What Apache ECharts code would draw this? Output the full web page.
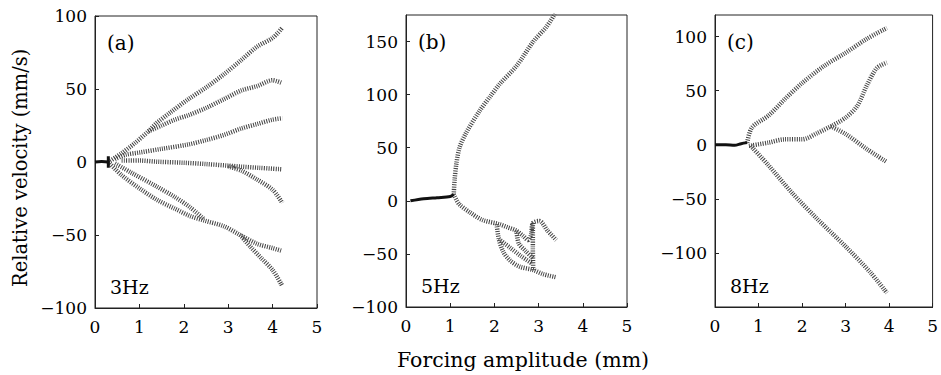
<!DOCTYPE html>
<html><head><meta charset="utf-8">
<script src="https://cdn.jsdelivr.net/npm/echarts@6/dist/echarts.min.js"></script>
<style>html,body{margin:0;padding:0;background:#fff}#c{width:941px;height:375px}</style>
</head><body><div id="c"></div>
<script>
// ---- text / axes ----
const panelLabels = ['(a)', '(b)', '(c)'];
const freqLabels = ['3Hz', '5Hz', '8Hz'];
const xTitle = 'Forcing amplitude (mm)';
const yTitle = 'Relative velocity (mm/s)';
const xMin = 0, xMax = 5, xStep = 1;
const yRanges = [[-100, 100], [-100, 175], [-150, 120]];
const yStep = 50;

// ---- panel (a) 3Hz branches [forcing, velocity] ----
const a_stub  = [[0, 0], [0.15, 0.3], [0.3, 0]];
const a_spike = [[0.3, -4], [0.3, 4]];
const a_top   = [[0.3, 0], [0.6, 6], [0.9, 13], [1.2, 21], [1.4, 27], [1.7, 34], [2.1, 43], [2.5, 51], [2.9, 60], [3.3, 70], [3.65, 79], [4.0, 85], [4.22, 92]];
const a_2nd   = [[1.2, 21], [1.5, 25], [1.8, 29], [2.1, 32], [2.5, 37], [2.9, 43], [3.3, 49], [3.65, 52], [4.0, 56], [4.22, 54]];
const a_3rd   = [[0.45, 2], [0.7, 5], [1.0, 6.5], [1.5, 9], [2.1, 12], [2.5, 15], [2.9, 18.5], [3.3, 23], [3.65, 26], [4.0, 29], [4.22, 30]];
const a_4th   = [[0.6, 1], [1.0, 1], [1.4, 0.2], [2.0, -0.5], [2.5, -1.4], [3.0, -2.5], [3.3, -3.2], [3.7, -4], [4.22, -5]];
const a_5th   = [[3.0, -3], [3.3, -6], [3.65, -12], [4.0, -19], [4.22, -28]];
const a_6th   = [[0.45, -1], [0.8, -7], [1.4, -17], [1.8, -24], [2.14, -31], [2.45, -39]];
const a_7th   = [[0.3, 0], [0.6, -9], [1.0, -18], [1.4, -26], [1.8, -32], [2.14, -37], [2.45, -40], [2.9, -44], [3.27, -50], [3.65, -56], [4.0, -59], [4.22, -61]];
const a_8th   = [[3.27, -50], [3.5, -58], [3.75, -66], [4.0, -74], [4.22, -85]];

// ---- panel (b) 5Hz ----
const b_flat  = [[0.1, 0], [0.4, 2], [0.7, 3], [1.0, 4], [1.08, 6]];
const b_up    = [[1.08, 6], [1.1, 20], [1.14, 35], [1.21, 50], [1.36, 64], [1.67, 85], [1.9, 98], [2.12, 110], [2.5, 127], [2.88, 150], [3.18, 164], [3.37, 176]];
const b_low   = [[1.08, 6], [1.2, -3], [1.45, -11], [1.73, -18], [2.11, -22], [2.3, -25], [2.49, -28], [2.65, -33], [2.76, -37], [2.83, -32], [2.87, -21], [3.02, -19], [3.2, -28], [3.4, -37]];
const b_loop  = [[2.05, -22], [2.1, -36], [2.2, -48], [2.35, -56], [2.57, -62], [2.87, -65], [3.1, -69], [3.4, -72]];
const b_mid1  = [[2.5, -28], [2.55, -40], [2.7, -47], [2.87, -54]];
const b_mid2  = [[2.1, -36], [2.35, -44], [2.6, -52], [2.85, -59]];
const b_vert  = [[2.87, -21], [2.87, -45], [2.88, -66]];

// ---- panel (c) 8Hz ----
const c_flat  = [[0, 0], [0.25, 0], [0.45, -0.5], [0.6, 1], [0.74, 2]];
const c_up    = [[0.74, 2], [0.85, 16], [1.23, 27], [1.6, 42], [2.0, 57], [2.51, 73], [3.0, 85], [3.49, 98], [3.95, 108]];
const c_mid   = [[0.78, -1], [1.23, 2], [1.6, 5], [2.0, 5], [2.36, 11], [2.66, 17]];
const c_midUp = [[2.66, 17], [3.0, 25], [3.27, 36], [3.49, 55], [3.72, 71], [3.95, 76]];
const c_midDn = [[2.66, 17], [3.0, 10], [3.49, -4], [3.95, -16]];
const c_low   = [[0.82, -1], [1.23, -19], [1.76, -44], [2.36, -69], [3.0, -94], [3.57, -118], [3.95, -137]];

const panelData = [
  [a_top, a_2nd, a_3rd, a_4th, a_5th, a_6th, a_7th, a_8th],
  [b_up, b_low, b_loop, b_mid1, b_mid2, b_vert],
  [c_up, c_mid, c_midUp, c_midDn, c_low]
];
const solidData = [[a_stub, a_spike], [b_flat], [c_flat]];

// ---- layout ----
const grids = [
  {left: 95, top: 16, width: 222, height: 292},
  {left: 406, top: 15, width: 221, height: 292},
  {left: 715, top: 15, width: 222, height: 292}
];
const FONT = 'DejaVu Serif';
const minus = v => String(v).replace('-', '\u2212');

const chart = echarts.init(document.getElementById('c'), null, {renderer: 'svg'});
const xAxis = [], yAxis = [], series = [], graphic = [];
grids.forEach((g, i) => {
  g.show = true; g.borderColor = '#222'; g.borderWidth = 1; g.backgroundColor = 'transparent';
  xAxis.push({
    gridIndex: i, type: 'value', min: xMin, max: xMax, interval: xStep,
    axisLine: {onZero: false, lineStyle: {color: '#222', width: 1}},
    axisTick: {inside: true, length: 4, lineStyle: {color: '#222'}},
    axisLabel: {fontFamily: FONT, fontSize: 17, color: '#000', margin: 10},
    splitLine: {show: false}
  });
  yAxis.push({
    gridIndex: i, type: 'value', min: yRanges[i][0], max: yRanges[i][1], interval: yStep,
    axisLine: {onZero: false, lineStyle: {color: '#222', width: 1}},
    axisTick: {inside: true, length: 4, lineStyle: {color: '#222'}},
    axisLabel: {fontFamily: FONT, fontSize: 17, color: '#000', margin: 8, formatter: minus,
      showMinLabel: i !== 2, showMaxLabel: i === 0},
    splitLine: {show: false}
  });
  panelData[i].forEach(d => series.push({
    type: 'line', xAxisIndex: i, yAxisIndex: i, data: d, showSymbol: false, silent: true,
    smooth: 0.3, animation: false,
    lineStyle: {color: '#444', width: 4.5, type: [1, 1.3]}
  }));
  solidData[i].forEach(d => series.push({
    type: 'line', xAxisIndex: i, yAxisIndex: i, data: d, showSymbol: false, silent: true,
    smooth: 0.3, animation: false,
    lineStyle: {color: '#111', width: 3}
  }));
  graphic.push({type: 'text', left: g.left + 12, top: g.top + 17,
    style: {text: panelLabels[i], font: '20px "' + FONT + '"', fill: '#000'}});
  graphic.push({type: 'text', left: g.left + 15, top: g.top + 261,
    style: {text: freqLabels[i], font: '19px "' + FONT + '"', fill: '#000'}});
});
graphic.push({type: 'text', left: 397, top: 349,
  style: {text: xTitle, font: '20.5px "' + FONT + '"', fill: '#000'}});
graphic.push({type: 'text', rotation: Math.PI / 2, x: 20, y: 287, originX: 0, originY: 0,
  style: {text: yTitle, font: '19.5px "' + FONT + '"', fill: '#000', textVerticalAlign: 'middle'}});

chart.setOption({animation: false, grid: grids, xAxis, yAxis, series, graphic});
</script></body></html>
